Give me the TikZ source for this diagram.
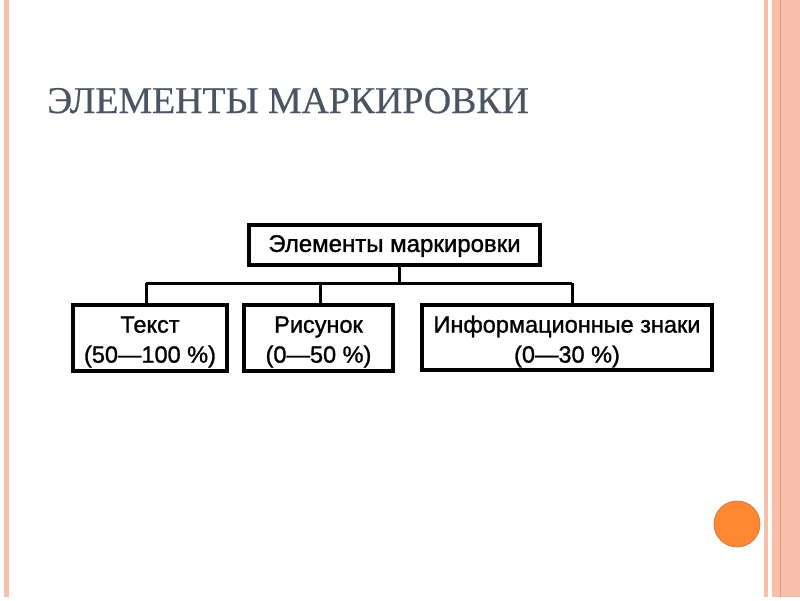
\documentclass[tikz,border=0pt]{standalone}
\usepackage{fontspec}
\setmainfont{Liberation Serif}
\newfontfamily\titlef{Liberation Serif}[FakeBold=0.4]
\newfontfamily\arialf{Liberation Sans}[FakeBold=1.2]
\definecolor{stripe}{RGB}{246,192,170}
\definecolor{stripedark}{RGB}{232,150,125}
\definecolor{titlecol}{RGB}{74,84,98}
\definecolor{dotfill}{RGB}{255,136,51}
\definecolor{dotedge}{RGB}{210,120,70}
\begin{document}
\begin{tikzpicture}[x=1pt,y=-1pt,
  box/.style={draw=black, line width=3.2pt, inner sep=0pt},
  lbl/.style={inner sep=0pt, align=center,
    font=\arialf\fontsize{23.5}{30}\selectfont},
  link/.style={draw=black, line width=3pt}]
\useasboundingbox[fill=white] (0,0) rectangle (800,600);
% decorative stripes
\fill[stripe] (4,0) rectangle (9,597);
\fill[stripe] (764,0) rectangle (768,597);
\fill[stripe] (772,0) rectangle (800,597);
\draw[stripedark, line width=0.8pt] (780.5,0) -- (780.5,597);
% orange dot
\fill[dotfill, draw=dotedge, line width=0.8pt] (737,524) circle (23);
% title
\node[anchor=base west, inner sep=0pt, text=titlecol,
  font=\titlef\fontsize{37.8}{40}\selectfont] (title) at (47,113) {ЭЛЕМЕНТЫ МАРКИРОВКИ};
% boxes
\node[box, minimum width=291pt, minimum height=40pt] (top) at (394.5,245) {};
\node[lbl, font=\arialf\fontsize{24}{30}\selectfont] (topl) at ([yshift=-1]top.center) {Элементы маркировки};
\node[box, minimum width=154pt, minimum height=66pt] (t1) at (150,338) {};
\node[box, minimum width=149pt, minimum height=66pt] (t2) at (318.5,338) {};
\node[box, minimum width=290pt, minimum height=65pt] (t3) at (567,337.5) {};
\node[lbl] (t1l) at ([yshift=-4]t1.center) {Текст\\(50—100 \%)};
\node[lbl] (t2l) at ([yshift=-4]t2.center) {Рисунок\\(0—50 \%)};
\node[lbl] (t3l) at ([yshift=-4]t3.center) {Информационные знаки\\(0—30 \%)};
% connectors
\coordinate (busL) at (146,283);
\coordinate (busR) at (572,283);
\draw[link] (busL) -- (busR);
\draw[link] (top.south -| 399,0) -- (busL -| 399,0);
\draw[link] (busL) -- (busL |- t1.north);
\draw[link] (busL -| 320,0) -- (t1.north -| 320,0);
\draw[link] (busR) -- (busR |- t3.north);
\end{tikzpicture}
\end{document}
